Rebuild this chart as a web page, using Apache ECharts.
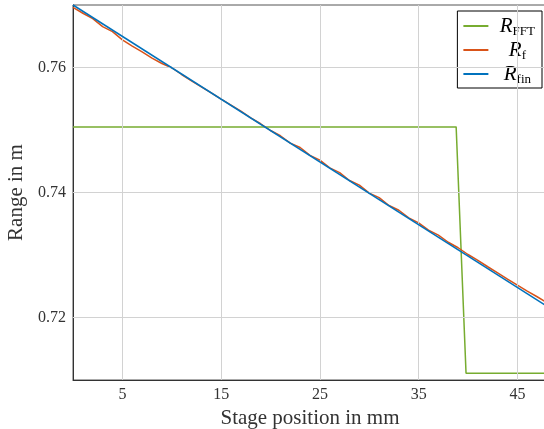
<!DOCTYPE html>
<html>
<head>
<meta charset="utf-8">
<script src="https://cdn.jsdelivr.net/npm/echarts@6/dist/echarts.min.js"></script>
<style>html,body{margin:0;padding:0;background:#fff}#c{width:544px;height:429px}</style>
</head>
<body>
<div id="c"></div>
<script>
const xTicks = [5, 15, 25, 35, 45];
const yTicks = [0.72, 0.74, 0.76];

const xFFT = [0, 38.8, 39.8, 48];
const rFFT = [0.7505, 0.7505, 0.7111, 0.7111];

const xF = [0,1,2,3,4,5,6,7,8,9,10,11,12,13,14,15,16,17,18,19,20,21,22,23,24,25,26,27,28,29,30,31,32,33,34,35,36,37,38,39,40,41,42,43,44,45,46,47,48];
const rF = [0.76963,0.76868,0.76783,0.76654,0.76574,0.76442,0.76342,0.76249,0.76149,0.76064,
            0.75996,0.75888,0.75787,0.75690,0.75594,0.75494,0.75399,0.75301,0.75193,0.75100,
            0.74992,0.74908,0.74791,0.74720,0.74593,0.74519,0.74393,0.74318,0.74192,0.74117,
            0.73991,0.73917,0.73792,0.73716,0.73594,0.73515,0.73399,0.73317,0.73204,0.73116,
            0.73008,0.72913,0.72812,0.72715,0.72614,0.72517,0.72422,0.72332,0.72238];

const xFin = [0, 48];
const rFin = [0.7700, 0.7218];

const names = ['R_FFT', 'R_f', 'R_fin'];
const colors = ['#77AC30', '#D95319', '#0072BD'];

const zip = (a, b) => a.map((v, i) => [v, b[i]]);
const font = 'Liberation Serif';

const chart = echarts.init(document.getElementById('c'), null, {renderer: 'canvas'});
chart.setOption({
  animation: false,
  backgroundColor: '#fff',
  grid: {left: 73, top: 5, right: -3, bottom: 49, show: true, borderColor: '#555', borderWidth: 1,
         containLabel: false, outerBoundsMode: 'none'},
  xAxis: {
    type: 'value', min: 0, max: 48,
    name: 'Stage position in mm', nameLocation: 'middle', nameGap: 23,
    nameTextStyle: {fontFamily: font, fontSize: 21, color: '#333'},
    axisLine: {lineStyle: {color: '#333', width: 1}},
    axisTick: {show: true, inside: true, length: 4, lineStyle: {color: '#555'}, customValues: xTicks},
    axisLabel: {customValues: xTicks, fontFamily: font, fontSize: 16, color: '#333', margin: 7},
    splitLine: {show: false}
  },
  yAxis: {
    type: 'value', min: 0.71, max: 0.77,
    name: 'Range in m', nameLocation: 'middle', nameGap: 45, nameRotate: 90,
    nameTextStyle: {fontFamily: font, fontSize: 21, color: '#333'},
    axisLine: {show: true, lineStyle: {color: '#333', width: 1}},
    axisTick: {show: true, inside: true, length: 4, lineStyle: {color: '#555'}, customValues: yTicks},
    axisLabel: {customValues: yTicks, fontFamily: font, fontSize: 16, color: '#333', margin: 7,
                formatter: v => v.toFixed(2)},
    splitLine: {show: false}
  },
  legend: {
    data: names,
    orient: 'vertical', right: 2, top: 11,
    backgroundColor: '#fff', borderColor: '#000', borderWidth: 1,
    padding: [3, 7, 2, 6], itemGap: 0, itemWidth: 25, itemHeight: 2, icon: 'rect',
    formatter: n => {
      const sub = n.split('_')[1];
      return '{r|R}{s|' + sub + '}';
    },
    textStyle: {
      fontFamily: font, color: '#000', width: 48, align: 'center',
      rich: {
        r: {fontFamily: font, fontStyle: 'italic', fontSize: 21, color: '#000', lineHeight: 23, align: 'center'},
        s: {fontFamily: font, fontSize: 13, color: '#000', lineHeight: 12, padding: [11, 0, 0, 0], align: 'center'}
      }
    }
  },
  series: [
    {
      name: 'grid', type: 'line', data: [], silent: true, z: 1,
      markLine: {
        silent: true, symbol: ['none', 'none'], label: {show: false},
        lineStyle: {color: '#d2d2d2', width: 1, type: 'solid'},
        data: xTicks.map(v => ({xAxis: v})).concat(yTicks.map(v => ({yAxis: v})))
      }
    },
    {name: names[0], type: 'line', data: zip(xFFT, rFFT), showSymbol: false, z: 3,
     lineStyle: {color: colors[0], width: 1.5}, itemStyle: {color: colors[0]}},
    {name: names[1], type: 'line', data: zip(xF, rF), showSymbol: false, z: 4,
     lineStyle: {color: colors[1], width: 1.5}, itemStyle: {color: colors[1]}},
    {name: names[2], type: 'line', data: zip(xFin, rFin), showSymbol: false, z: 5,
     lineStyle: {color: colors[2], width: 1.5}, itemStyle: {color: colors[2]}}
  ]
});
</script>
</body>
</html>
